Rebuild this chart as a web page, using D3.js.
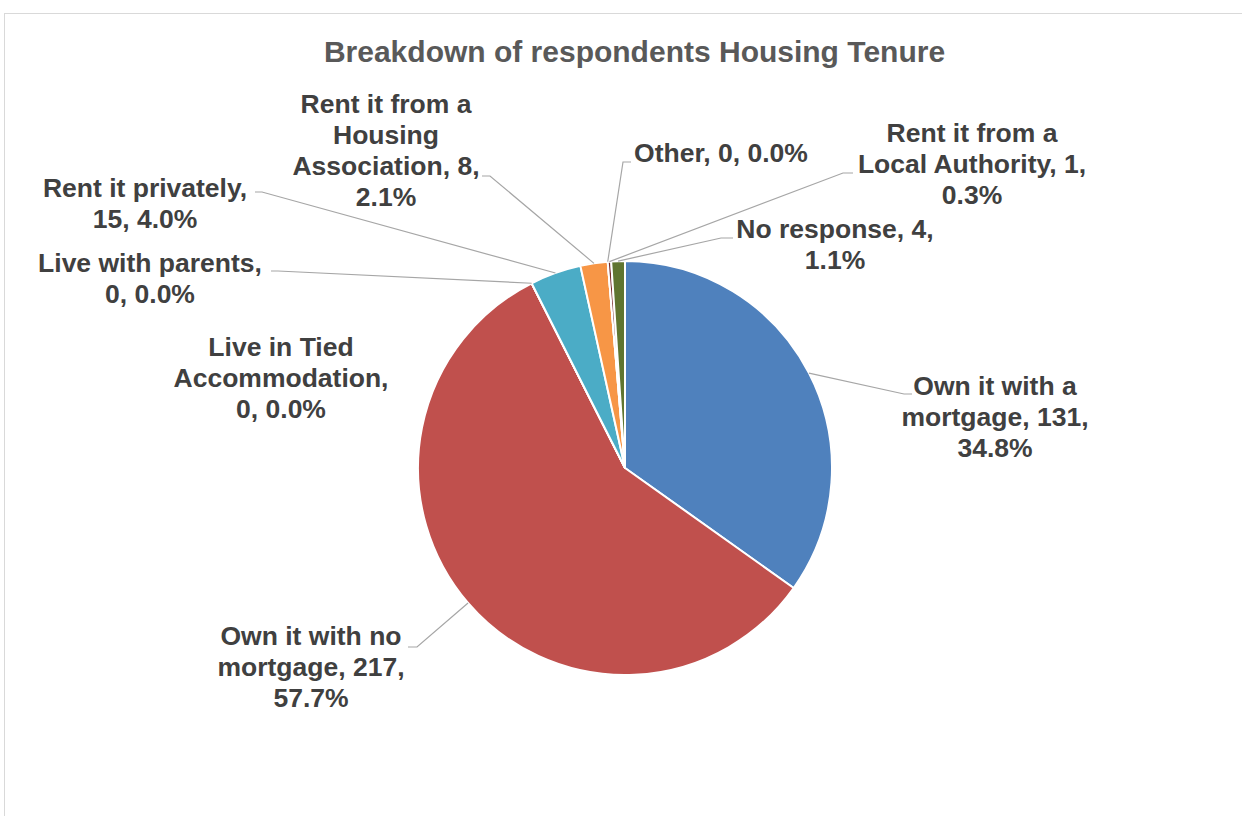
<!DOCTYPE html>
<html>
<head>
<meta charset="utf-8">
<script src="https://cdn.jsdelivr.net/npm/d3@7"></script>
<style>
  html, body { margin: 0; padding: 0; background: #fff; }
  svg { display: block; font-family: "Liberation Sans", Arial, sans-serif; }
</style>
</head>
<body>
<div id="chart"></div>
<script>
// Data
const categories = [
  'Own it with a mortgage',
  'Own it with no mortgage',
  'Live in Tied Accommodation',
  'Live with parents',
  'Rent it privately',
  'Rent it from a Housing Association',
  'Other',
  'Rent it from a Local Authority',
  'No response'
];
const counts = [131, 217, 0, 0, 15, 8, 0, 1, 4];

// Excel office palette (accents, then darker accents)
const colors = ['#4F81BD', '#C0504D', '#9BBB59', '#8064A2', '#4BACC6', '#F79646', '#2C4D75', '#772C2A', '#5F7530'];

// label placement: centre x, first baseline, words per line, leader elbow + hook end
const labelLayout = [
  { x: 995, y: 395, lines: [4, 2, 1], elbow: [904, 394], hook: [912, 394] },
  { x: 311, y: 645, lines: [4, 2, 1], elbow: [417, 647], hook: [408, 647] },
  { x: 281, y: 356, lines: [3, 1, 2], elbow: null, hook: null },
  { x: 150, y: 272, lines: [3, 2], elbow: [278, 271], hook: [271, 271] },
  { x: 145, y: 197, lines: [3, 2], elbow: [262, 192], hook: [255, 192] },
  { x: 386, y: 113, lines: [4, 1, 2, 1], elbow: [490, 176], hook: [482, 176] },
  { x: 721, y: 162, lines: [3], elbow: [623, 162], hook: [631, 162] },
  { x: 972, y: 142, lines: [4, 3, 1], elbow: [843, 173], hook: [853, 173] },
  { x: 835, y: 238, lines: [3, 1], elbow: [721, 238], hook: [733, 238] }
];

const width = 1242, height = 816;
const cx = 625, cy = 468, radius = 207;
const lineHeight = 31;

const data = categories.map((c, i) => ({ label: c, value: counts[i] }));
const total = d3.sum(counts);

const svg = d3.select('#chart').append('svg')
  .attr('width', width)
  .attr('height', height);

// chart area border
svg.append('rect')
  .attr('x', 4.5).attr('y', 13.5)
  .attr('width', 1400).attr('height', 1000)
  .attr('fill', '#fff')
  .attr('stroke', '#d9d9d9')
  .attr('stroke-width', 1);

// title
svg.append('text')
  .attr('x', 634.5)
  .attr('y', 62)
  .attr('text-anchor', 'middle')
  .style('font-size', '30px')
  .style('font-weight', 'bold')
  .style('fill', '#595959')
  .text('Breakdown of respondents Housing Tenure');

const pie = d3.pie().value(d => d.value).sort(null);
const arcs = pie(data);

const arc = d3.arc().innerRadius(0).outerRadius(radius);
const edgeArc = d3.arc().innerRadius(radius).outerRadius(radius);

const g = svg.append('g').attr('transform', `translate(${cx},${cy})`);

g.selectAll('path.slice')
  .data(arcs)
  .enter()
  .append('path')
  .attr('class', 'slice')
  .attr('d', arc)
  .attr('fill', (d, i) => colors[i])
  .attr('stroke', '#fff')
  .attr('stroke-width', 2)
  .attr('stroke-linejoin', 'round');

// leader lines
const leaders = svg.append('g')
  .attr('fill', 'none')
  .attr('stroke', '#a6a6a6')
  .attr('stroke-width', 1.2);

arcs.forEach((d, i) => {
  const lay = labelLayout[i];
  if (!lay.elbow) return;
  const p = edgeArc.centroid(d);
  const start = [cx + p[0], cy + p[1]];
  leaders.append('path')
    .attr('d', d3.line()([start, lay.elbow, lay.hook]));
});

// data labels: "category, value, pct%"
const labels = svg.append('g')
  .style('font-size', '26.5px')
  .style('font-weight', 'bold')
  .style('fill', '#404040')
  .attr('text-anchor', 'middle');

arcs.forEach((d, i) => {
  const lay = labelLayout[i];
  const pct = (d.data.value / total * 100).toFixed(1);
  const words = `${d.data.label}, ${d.data.value}, ${pct}%`.split(' ');
  const t = labels.append('text').attr('x', lay.x).attr('y', lay.y);
  let k = 0;
  lay.lines.forEach((n, li) => {
    t.append('tspan')
      .attr('x', lay.x)
      .attr('y', lay.y + li * lineHeight)
      .text(words.slice(k, k + n).join(' '));
    k += n;
  });
});
</script>
</body>
</html>
